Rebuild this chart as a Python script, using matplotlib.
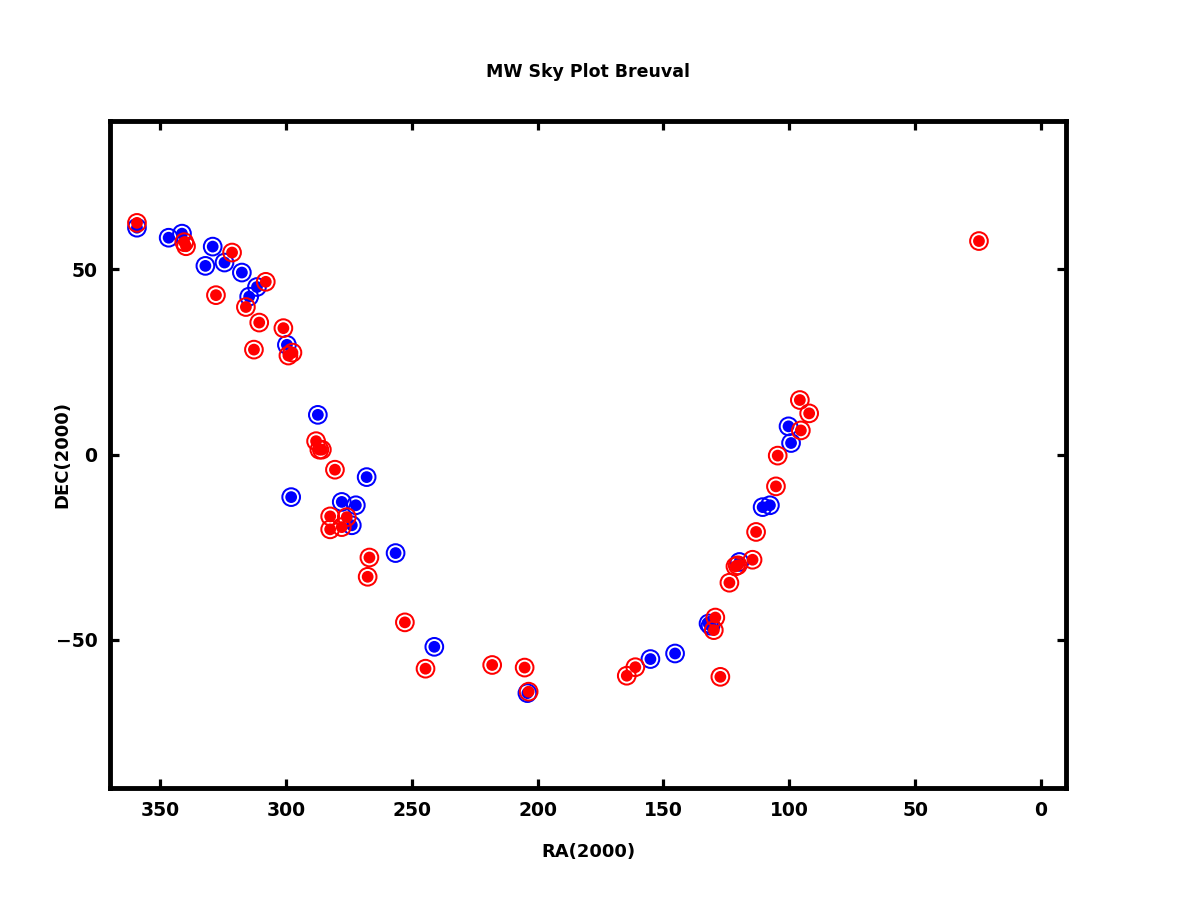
import matplotlib
matplotlib.use("Agg")
import matplotlib.pyplot as plt

# Blue sample (RA, DEC)
blue_ra = [359.3, 346.7, 341.4, 329.2, 332.1, 324.5, 317.6, 311.6, 314.7, 299.7,
           287.4, 268.0, 298.0, 277.9, 272.3, 273.9, 256.5, 241.1, 204.1,
           155.2, 145.4, 131.3, 132.1, 100.3, 99.3, 110.6, 107.7, 119.8]
blue_dec = [61.2, 58.5, 59.6, 56.1, 50.9, 51.8, 49.1, 45.2, 42.6, 29.6,
            10.7, -6.1, -11.5, -12.8, -13.7, -19.1, -26.6, -51.9, -64.4,
            -55.2, -53.7, -46.2, -45.6, 7.6, 3.1, -14.2, -13.7, -29.0]

# Red sample (RA, DEC)
red_ra = [359.3, 340.5, 339.8, 321.5, 308.1, 316.0, 327.9, 310.7, 301.1, 312.8,
          299.1, 297.5, 288.1, 286.8, 285.8, 280.6, 282.5, 275.9, 282.5, 277.9,
          266.9, 267.6, 252.8, 244.6, 218.1, 205.2, 203.6, 164.6, 161.2,
          129.4, 130.0, 127.4, 123.8, 95.8, 92.1, 95.4, 104.6, 105.3, 113.2,
          114.6, 120.5, 121.4, 24.6]
red_dec = [62.5, 57.3, 56.2, 54.5, 46.6, 39.8, 43.0, 35.6, 34.1, 28.3,
           26.7, 27.5, 3.6, 1.3, 1.3, -4.1, -16.7, -16.9, -20.2, -19.6,
           -27.8, -33.0, -45.3, -57.8, -56.8, -57.5, -64.0, -59.7, -57.4,
           -44.0, -47.4, -60.0, -34.6, 14.7, 11.1, 6.5, -0.3, -8.6, -20.9,
           -28.4, -29.9, -30.2, 57.6]

xticks = [350, 300, 250, 200, 150, 100, 50, 0]
yticks = [50, 0, -50]

plt.rcParams['font.family'] = ['DejaVu Sans']

fig = plt.figure(figsize=(11.77, 9.09), dpi=100)
ax = fig.add_axes([0.0935, 0.1331, 0.9057 - 0.0935, 0.8669 - 0.1331])

def draw(ra, dec, color):
    ax.scatter(ra, dec, s=162, facecolors='none', edgecolors=color,
               linewidths=1.45, zorder=3)
    ax.scatter(ra, dec, s=72, facecolors=color, edgecolors='none', zorder=3)

draw(blue_ra, blue_dec, 'blue')
draw(red_ra, red_dec, 'red')

ax.set_xlim(370, -10)
ax.set_ylim(-90, 90)
ax.set_xticks(xticks)
ax.set_yticks(yticks)
ax.set_yticklabels(['50', '0', '\u221250'])

for s in ax.spines.values():
    s.set_linewidth(3.5)
ax.tick_params(direction='in', length=6.5, width=2.3, top=True, right=True,
               labelsize=13.5, pad=9)
for lab in ax.get_xticklabels() + ax.get_yticklabels():
    lab.set_fontweight('bold')

fig.text(0.4996, 1 - 72 / 909, 'MW Sky Plot Breuval', fontsize=12.5,
         fontweight='bold', ha='center', va='center')
ax.set_xlabel('RA(2000)', fontsize=13, fontweight='bold')
ax.set_ylabel('DEC(2000)', fontsize=13, fontweight='bold')
ax.xaxis.set_label_coords(0.5, -0.096)
ax.yaxis.set_label_coords(-0.050, 0.5)
ax.xaxis.label.set_va('center')
ax.yaxis.label.set_va('center')

fig.savefig('out.png', dpi=100)
